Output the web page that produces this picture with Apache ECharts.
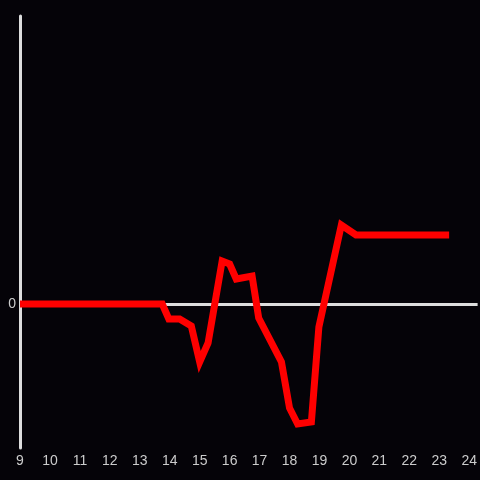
<!DOCTYPE html>
<html>
<head>
<meta charset="utf-8">
<script src="https://cdn.jsdelivr.net/npm/echarts@6/dist/echarts.min.js"></script>
<style>
html,body{margin:0;padding:0;background:#050308;}
#chart{width:480px;height:480px;}
</style>
</head>
<body>
<div id="chart"></div>
<script>
const xValues = [9.0, 13.75, 13.97, 14.33, 14.72, 15.0, 15.28, 15.75, 16.0, 16.22, 16.75, 16.97, 17.73, 18.0, 18.27, 18.73, 18.98, 19.73, 20.22, 23.33];
const yValues = [0, 0, -15, -15, -22, -58, -39, 43, 40, 25, 28, -14, -58, -104, -120, -118, -23, 79, 69, 69];
const xTickLabels = ['9','10','11','12','13','14','15','16','17','18','19','20','21','22','23','24'];

const data = xValues.map((x, i) => [x, yValues[i]]);

const chart = echarts.init(document.getElementById('chart'));
chart.setOption({
  backgroundColor: '#050308',
  animation: false,
  grid: { left: 20, right: 0, top: 16, bottom: 32, containLabel: false },
  xAxis: {
    type: 'value',
    min: 9,
    max: 24.28,
    interval: 1,
    axisLine: { show: false },
    axisTick: { show: false },
    splitLine: { show: false },
    axisLabel: {
      color: '#cccccc',
      fontSize: 14,
      fontFamily: 'Liberation Sans',
      margin: 6,
      showMaxLabel: false,
      formatter: function (v) {
        const idx = Math.round(v) - 9;
        return Math.abs(v - Math.round(v)) < 1e-6 && xTickLabels[idx] !== undefined ? xTickLabels[idx] : '';
      }
    }
  },
  yAxis: {
    type: 'value',
    min: -144,
    max: 288,
    interval: 144,
    axisLine: { show: true, onZero: false, lineStyle: { color: '#dddddd', width: 3 } },
    axisTick: { show: false },
    splitLine: { show: false },
    axisLabel: {
      color: '#cccccc',
      fontSize: 14,
      fontFamily: 'Liberation Sans',
      margin: 4,
      formatter: function (v) { return v === 0 ? '0' : ''; }
    }
  },
  series: [{
    type: 'line',
    data: data,
    symbol: 'none',
    lineStyle: { color: '#ff0000', width: 7, join: 'miter' },
    markLine: {
      silent: true,
      symbol: 'none',
      label: { show: false },
      lineStyle: { color: '#dddddd', width: 3, type: 'solid' },
      data: [{ yAxis: 0 }],
      z: 1
    },
    z: 3
  }]
});
</script>
</body>
</html>
